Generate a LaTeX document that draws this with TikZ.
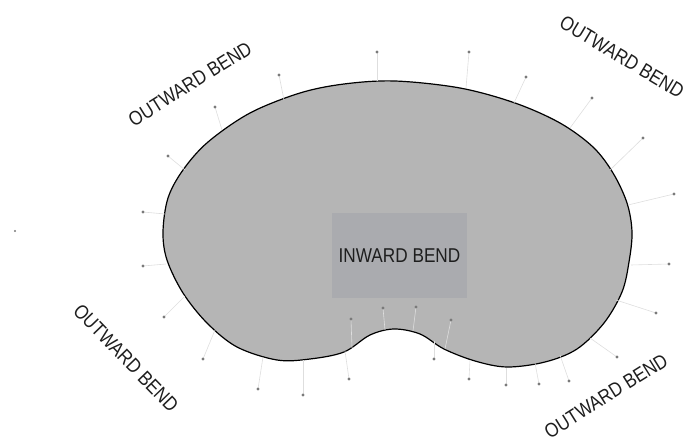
\documentclass[tikz,border=0pt]{standalone}
\usepackage{fontspec}
\setmainfont{Liberation Sans}[FakeStretch=0.86]
\usepackage{tikz}
\usetikzlibrary{positioning}
\definecolor{bendFill}{HTML}{B5B5B5}
\definecolor{bendBox}{HTML}{AAABAF}
\definecolor{bendText}{HTML}{1E1E1E}
\definecolor{tickLine}{HTML}{DEDEDE}
\definecolor{tickDot}{HTML}{7A7A7A}

\begin{document}
\begin{tikzpicture}[
  x=1pt, y=-1pt,
  every node/.style={font=\fontsize{20}{22}\selectfont, text=bendText, inner sep=0pt},
  blob/.style={draw=black, line width=1.2pt, fill=bendFill},
  inbox/.style={fill=bendBox, minimum width=135pt, minimum height=85pt},
  tick/.style={tickLine, line width=0.6pt},
  tickdot/.style={fill=tickDot, draw=none},
  outlabel/.style={anchor=center}
]
\useasboundingbox (0,0) rectangle (688,444);

% kidney outline
\path[blob] plot[smooth cycle, tension=0.55] coordinates {
  (163,232) (168,198) (183,170) (208,142) (250,113) (300,93) (344,84)
  (395,81) (460,88) (515,103) (560,123) (593,147) (613,173) (627,203)
  (632,232) (629,262) (622,292) (604,323) (577,349) (545,362) (507,367)
  (475,361) (444,349) (420,334) (394,329) (370,335) (344,352) (310,359)
  (277,360) (237,347) (207,323) (183,293) (167,260)};

% inward box
\node[inbox] (inward) at (399.5,255.5) {};
\node (inlabel) at (inward.center) {INWARD BEND};

% ticks (start on outline / dot)
\foreach \sx/\sy/\ex/\ey in {
  165/214/143/212, 185/170/168/156, 222/130/215/107, 284/100/279/75,
  377/81/377/52, 466/88/469/52, 514/103/526/77, 570/128/592/98,
  610/170/643/138, 628/205/674/194, 631/265/669/264, 616/300/656/313,
  590/338/617/357, 560/355/569/381, 535/363/539/384, 506/368/506/385,
  470/360/469/379, 434/341/434/359, 345/351/349/379, 303/360/303/395,
  263/357/258/389, 215/330/203/359, 185/296/164/317, 166/264/143/266,
  352/348/351/319, 385/330/383/308, 413/331/416/307, 445/349/451/320} {
  \draw[tick] (\sx,\sy) -- (\ex,\ey);
  \fill[tickdot] (\ex,\ey) circle (1.6);
}
\fill[tickdot] (15,231) circle (1.2);

% outward labels
\node[outlabel, rotate=32]  (outTL) at (190,84)  {OUTWARD BEND};
\node[outlabel, rotate=-31] (outTR) at (622,57)  {OUTWARD BEND};
\node[outlabel, rotate=-46] (outBL) at (126,358) {OUTWARD BEND};
\node[outlabel, rotate=32]  (outBR) at (606,396) {OUTWARD BEND};
\end{tikzpicture}
\end{document}
